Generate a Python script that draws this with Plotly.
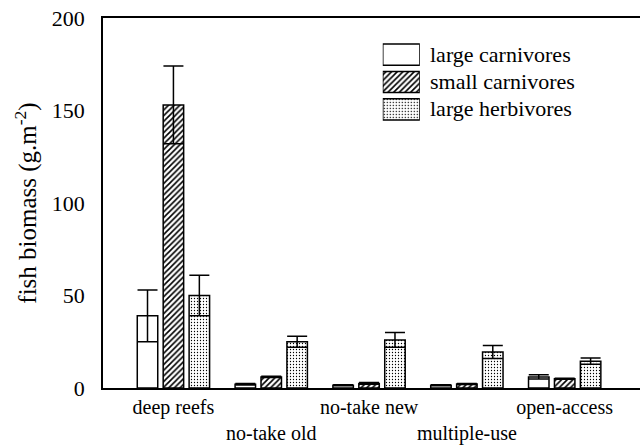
import plotly.graph_objects as go

# Mean fish biomass per functional group and reef zone, with error (SE)
zones = ["deep reefs", "no-take old", "no-take new", "multiple-use", "open-access"]
groups = ["large carnivores", "small carnivores", "large herbivores"]

large_carnivores = [39, 2, 1.5, 1.5, 6]
large_carnivores_err = [14, 0.4, 0.3, 0.3, 1.2]
small_carnivores = [153, 6, 2.5, 2.2, 5]
small_carnivores_err = [21, 0.3, 0.5, 0.3, 0.3]
large_herbivores = [50, 25, 26, 19.5, 14.5]
large_herbivores_err = [11, 3, 4, 3.5, 1.7]

y_ticks = [0, 50, 100, 150, 200]

FONT = "Liberation Serif"
FS = 22

styles = [
    dict(shape="", bg="white"),
    dict(shape="/", bg="white", size=4, solidity=0.4),
    dict(shape=".", bg="white", size=3, solidity=0.15),
]

values = [large_carnivores, small_carnivores, large_herbivores]
errors = [large_carnivores_err, small_carnivores_err, large_herbivores_err]

# staggered category labels: every second one on a lower line
ticktext = [z if i % 2 == 0 else "<br>" + z for i, z in enumerate(zones)]


def make_pattern(st):
    pattern = dict(shape=st["shape"], fgcolor="black", bgcolor=st["bg"], fillmode="replace")
    if st["shape"]:
        pattern.update(size=st["size"], solidity=st["solidity"])
    return pattern


fig = go.Figure()
for name, vals, errs, st in zip(groups, values, errors, styles):
    fig.add_trace(go.Bar(
        x=list(range(len(zones))), y=vals, name=name,
        marker=dict(color="white", line=dict(color="black", width=1.5), pattern=make_pattern(st)),
        error_y=dict(type="data", array=errs, color="black", thickness=1.5, width=10),
        showlegend=False, xaxis="x", yaxis="y",
    ))

# legend: swatches drawn as bars on a small inset axis, names as paper annotations
legend_text_x = 0.605
legend_rows_y = [0.901, 0.829, 0.756]
for k, (name, st) in enumerate(zip(groups, styles)):
    fig.add_trace(go.Bar(
        x=[1], y=[k], orientation="h", width=0.77,
        marker=dict(color="white", line=dict(color="black", width=1.5), pattern=make_pattern(st)),
        showlegend=False, hoverinfo="skip", xaxis="x2", yaxis="y2",
    ))
    fig.add_annotation(
        xref="paper", yref="paper", x=legend_text_x, y=legend_rows_y[k], text=name,
        showarrow=False, xanchor="left", yanchor="middle",
        font=dict(family=FONT, size=FS, color="black"),
    )

fig.update_layout(
    width=640, height=445,
    margin=dict(l=103, r=0, t=18, b=57),
    paper_bgcolor="white", plot_bgcolor="white",
    barmode="group", bargap=0.205, bargroupgap=0.21,
    font=dict(family=FONT, size=FS, color="black"),
    xaxis=dict(
        range=[-0.72, 4.77], tickvals=list(range(len(zones))), ticktext=ticktext,
        tickangle=0, ticklabelstandoff=0, automargin=False,
        showline=True, linecolor="black", linewidth=1.5, mirror=True,
        showgrid=False, zeroline=False, ticks="",
        tickfont=dict(family=FONT, size=20, color="black"),
    ),
    yaxis=dict(
        range=[0, 200], tickvals=y_ticks, automargin=False,
        showline=True, linecolor="black", linewidth=1.5,
        showgrid=False, zeroline=False, ticks="", ticklabelstandoff=12,
        tickfont=dict(family=FONT, size=FS, color="black"),
        title=dict(text="fish biomass (g.m<sup>-2</sup>)", standoff=8,
                   font=dict(family=FONT, size=25, color="black")),
    ),
    xaxis2=dict(domain=[0.521, 0.590], range=[0, 1], visible=False, fixedrange=True),
    yaxis2=dict(domain=[0.716, 0.938], range=[2.5, -0.5], visible=False, fixedrange=True,
                anchor="x2"),
)

fig.write_html("out.html")
